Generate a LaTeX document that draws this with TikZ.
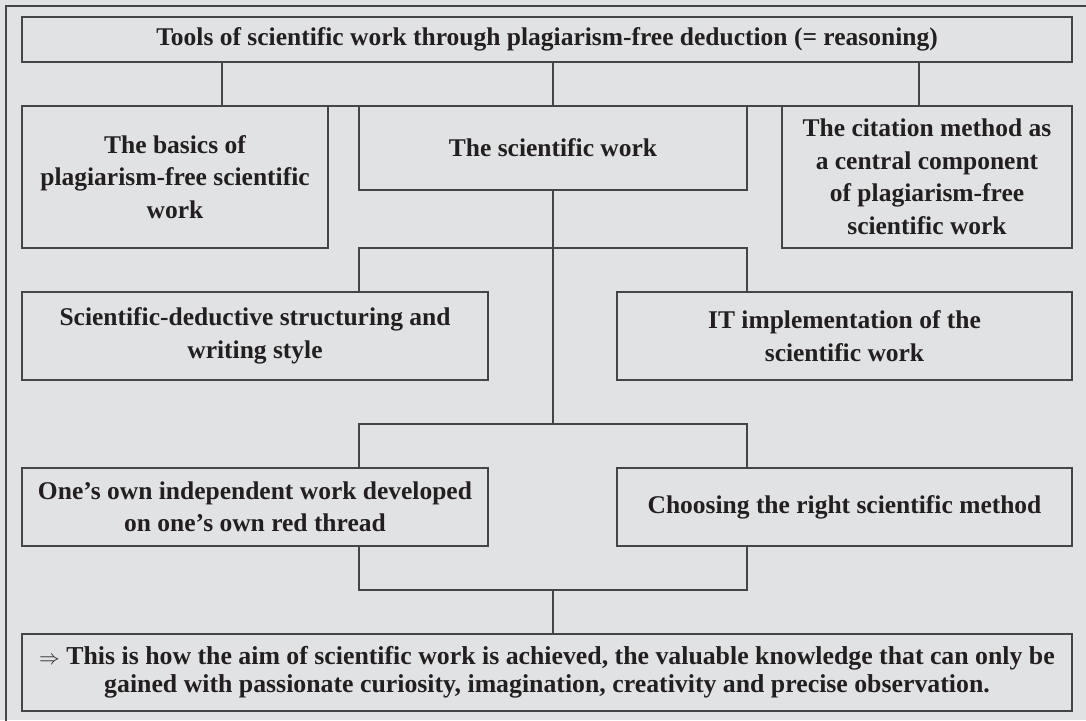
\documentclass[tikz,border=0pt]{standalone}
\usepackage{fontspec}
\setmainfont{Liberation Serif}
\definecolor{bg}{HTML}{E1E2E4}
\definecolor{ln}{HTML}{454545}
\definecolor{tx}{HTML}{231F20}
\tikzset{
  box/.style={draw=ln, line width=1.5pt, fill=bg, inner sep=0pt, align=center,
    text=tx, font=\fontsize{25.5}{32.5}\selectfont\bfseries},
  conn/.style={draw=ln, line width=1.5pt},
}
\begin{document}
\begin{tikzpicture}[x=1pt,y=-1pt]
\useasboundingbox (0,0) rectangle (1086,720);
\fill[bg] (0,0) rectangle (1086,720);
\draw[ln, line width=1.6pt] (6,721) -- (6,6) -- (1087,6);

\node[box, minimum width=1050pt, minimum height=45pt] (title) at (547,39.5)
  {Tools of scientific work through plagiarism-free deduction (= reasoning)};
\node[box, minimum width=306pt, minimum height=142pt] (basics) at (175,177)
  {The basics of\\plagiarism-free scientific\\work};
\node[box, minimum width=388pt, minimum height=84pt] (sci) at (553,148)
  {The scientific work};
\node[box, minimum width=290pt, minimum height=142pt] (cite) at (927,177)
  {The citation method as\\a central component\\of plagiarism-free\\scientific work};
\node[box, minimum width=466pt, minimum height=88pt] (struct) at (255,336)
  {Scientific-deductive structuring and\\writing style};
\node[box, minimum width=455pt, minimum height=88pt] (itimpl) at (844.5,336)
  {IT implementation of the\\scientific work};
\node[box, minimum width=466pt, minimum height=78pt] (own) at (255,507)
  {One’s own independent work developed\\on one’s own red thread};
\node[box, minimum width=455pt, minimum height=78pt] (method) at (844.5,507)
  {Choosing the right scientific method};
\node[box, minimum width=1050pt, minimum height=77pt,
  font=\fontsize{25.8}{27.5}\selectfont\bfseries] (aim) at (547,672.5)
  {{\fontsize{20}{20}\selectfont$\Rightarrow$} This is how the aim of scientific work is achieved, the valuable knowledge that can only be\\gained with passionate curiosity, imagination, creativity and precise observation.};

% bus below title
\coordinate (b1) at (222,106);
\coordinate (b2) at (553,106);
\coordinate (b3) at (919,106);
\draw[conn] (title.south -| b1) -- (b1);
\draw[conn] (title.south -| b2) -- (b2);
\draw[conn] (title.south -| b3) -- (b3);
\draw[conn] (b1) -- (b3);

% from scientific work down
\coordinate (h1l) at (359,248);
\coordinate (h1r) at (747,248);
\coordinate (h2l) at (359,424);
\coordinate (h2r) at (747,424);
\coordinate (h2m) at (553,424);
\draw[conn] (sci.south) -- (h2m);
\draw[conn] (struct.north -| h1l) -- (h1l) -- (h1r) -- (itimpl.north -| h1r);
\draw[conn] (own.north -| h2l) -- (h2l) -- (h2r) -- (method.north -| h2r);

% join to bottom
\coordinate (h3l) at (359,590);
\coordinate (h3r) at (747,590);
\coordinate (h3m) at (553,590);
\draw[conn] (own.south -| h3l) -- (h3l) -- (h3r) -- (method.south -| h3r);
\draw[conn] (h3m) -- (aim.north -| h3m);
\end{tikzpicture}
\end{document}
